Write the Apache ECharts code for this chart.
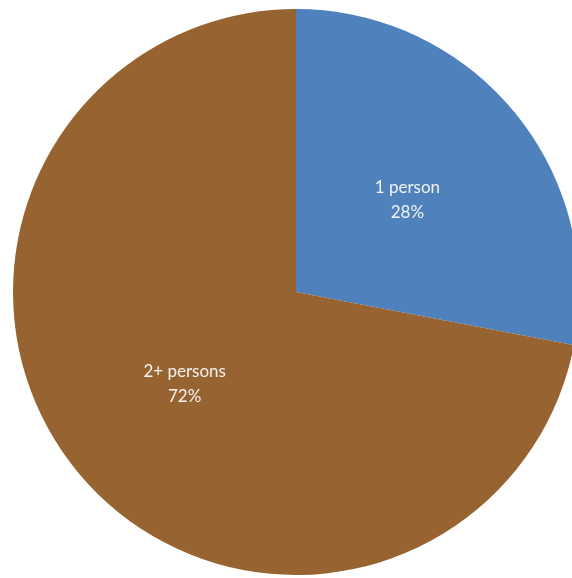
<!DOCTYPE html>
<html>
<head>
<meta charset="utf-8">
<script src="https://cdn.jsdelivr.net/npm/echarts@6/dist/echarts.min.js"></script>
<style>html,body{margin:0;padding:0;background:#fff;}#c{width:572px;height:578px;}</style>
</head>
<body>
<div id="c"></div>
<script>
var categories = ["1 person", "2+ persons"];
var values = [28, 72];
var colors = ["#4f81bd", "#976431"];

var chart = echarts.init(document.getElementById('c'), null, {renderer: 'canvas'});
chart.setOption({
  animation: false,
  backgroundColor: '#ffffff',
  series: [{
    type: 'pie',
    center: [296, 292],
    radius: [0, 283],
    startAngle: 90,
    clockwise: true,
    avoidLabelOverlap: false,
    itemStyle: {borderWidth: 0},
    label: {
      show: true,
      position: 'inside',
      formatter: '{b}\n{d}%',
      color: '#f2f2f2',
      fontFamily: 'Lato',
      fontSize: 17,
      lineHeight: 25
    },
    labelLine: {show: false},
    emphasis: {disabled: true},
    data: categories.map(function (c, i) {
      return {name: c, value: values[i], itemStyle: {color: colors[i]}};
    })
  }]
});
</script>
</body>
</html>
